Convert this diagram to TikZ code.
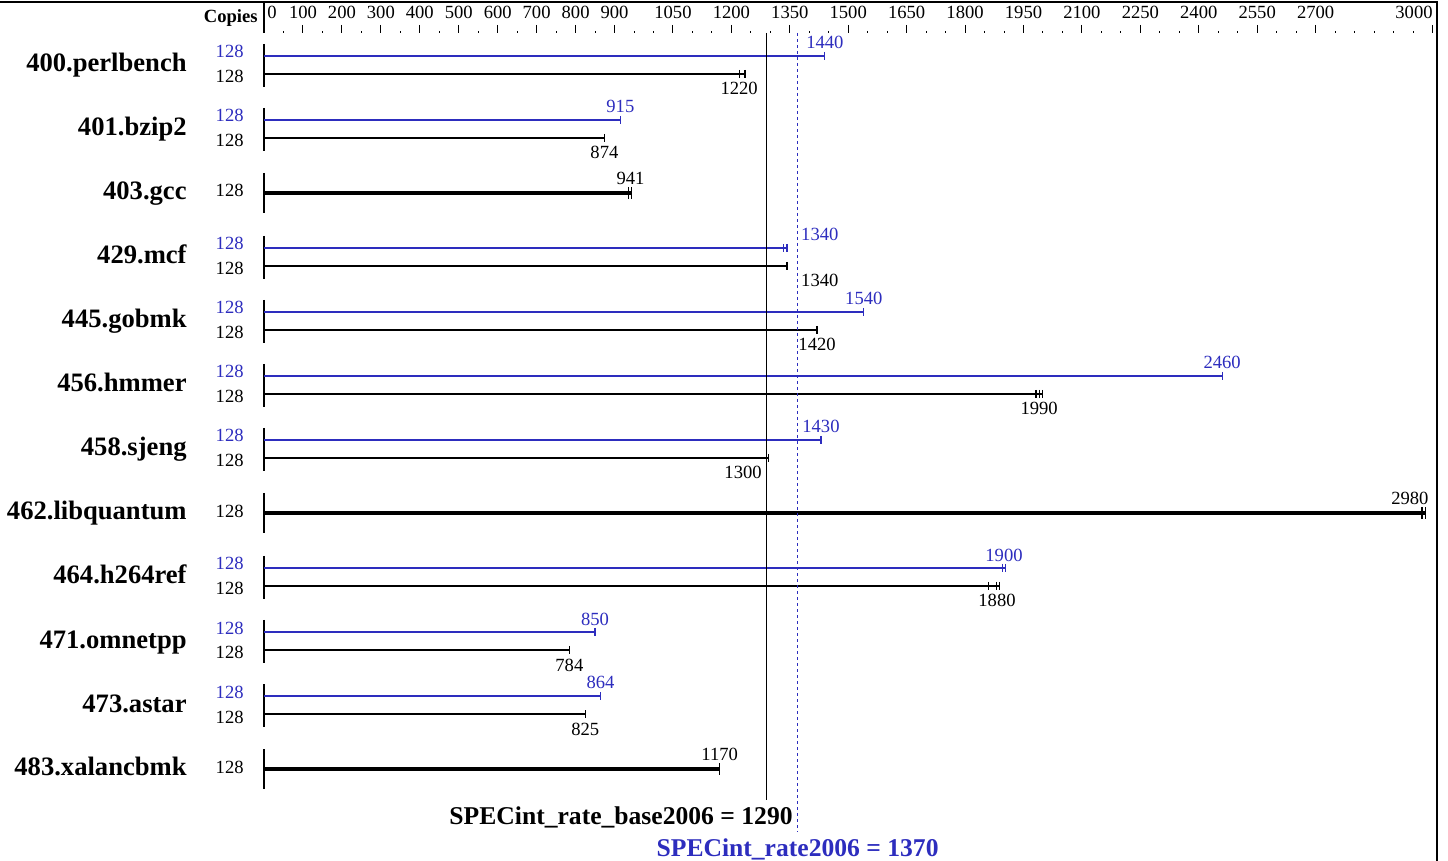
\documentclass[tikz,border=0pt]{standalone}
\usepackage{fontspec}
\setmainfont{Liberation Serif}
\usepackage{xcolor}
\usepackage{tikz}
\usetikzlibrary{positioning}
\definecolor{spBlue}{RGB}{45, 45, 190}
\newcommand{\vx}[1]{264+0.3895*#1}
\tikzset{
    base/.style={
        font=\fontsize{9.3}{11}\selectfont,
        inner sep=0pt
    },
    bench/.style={
        base,
        font=\bfseries\fontsize{13.3}{15}\selectfont,
        anchor=base east
    },
    copies/.style={
        base,
        anchor=base east
    },
    score/.style={
        base,
        anchor=base
    },
    total/.style={
        base,
        font=\bfseries\fontsize{12.8}{14}\selectfont,
        anchor=base
    },
    peakbar/.style={spBlue, line width=1.1pt},
    basebar/.style={black, line width=1.1pt},
    solebar/.style={black, line width=1.6pt},
    runtick/.style={line width=0.6pt},
    baseaxis/.style={black, line width=0.9pt}
}
% one bar, drawn out to each run, with a tick per run
\newcommand{\runbar}[4]{%
  \foreach \r in {#3} {
    \draw[#2] ({\vx{0}},#1) -- ({\vx{\r}},#1);
    \draw[#2, runtick] ({\vx{\r}},#1-#4) -- ({\vx{\r}},#1+#4);
  }%
}
% benchmark with peak and base result
\newcommand{\pairrow}[9]{%
  \node[bench] (#1) at (187,#2+10) {#3};
  \node[copies, spBlue] (#1-pc) at (244,#2-4) {128};
  \node[copies] (#1-bc) at (244,#2+21) {128};
  \draw[baseaxis] ({\vx{0}},#2-18) -- ({\vx{0}},#2+25);
  \runbar{#2-6}{peakbar}{#4}{4}
  \runbar{#2+12}{basebar}{#7}{4}
  \node[score, spBlue] (#1-peak) at ({\vx{#6}},#2-13) {#5};
  \node[score] (#1-base) at ({\vx{#9}},#2+33) {#8};
}
% benchmark with base result only
\newcommand{\solerow}[6]{%
  \node[bench] (#1) at (187,#2+10) {#3};
  \node[copies] (#1-bc) at (244,#2+7) {128};
  \draw[baseaxis] ({\vx{0}},#2-17) -- ({\vx{0}},#2+23);
  \runbar{#2+3}{solebar}{#4}{6}
  \node[score] (#1-base) at ({\vx{#6}},#2-5) {#5};
}

\begin{document}
\begin{tikzpicture}[x=0.5pt, y=-0.5pt]
  \useasboundingbox (0,0) rectangle (1448,861);

  % Frame
  \draw[line width=1pt] (0,2) -- (1437,2) -- (1437,861);

  % Axis
  \draw[baseaxis] ({\vx{0}},2) -- ({\vx{0}},33);
  \node[copies, font=\bfseries\fontsize{9.3}{11}\selectfont] (copies) at (258,23) {Copies};
  \foreach \v in {50,100,...,3000}
    \draw[line width=0.5pt] ({\vx{\v}},31) -- ({\vx{\v}},33);
  \foreach \v in {100,200,...,900} {
    \draw[line width=0.5pt] ({\vx{\v}},25) -- ({\vx{\v}},33);
    \node[score] (tick\v) at ({\vx{\v}},19) {\v};
  }
  \foreach \v in {1050,1200,...,2700} {
    \draw[line width=0.5pt] ({\vx{\v}},25) -- ({\vx{\v}},33);
    \node[score] (tick\v) at ({\vx{\v}},19) {\v};
  }
  \draw[line width=0.5pt] ({\vx{3000}},25) -- ({\vx{3000}},33);
  \node[score, anchor=base west] (zero) at (267,19) {0};
  \node[score, anchor=base east] (top) at (1433,19) {3000};

  % Rows
  \pairrow{perlbench}{62}{400.perlbench}{1440}{1440}{1440}{1220,1235}{1220}{1220}
  \pairrow{bzip}{126}{401.bzip2}{915}{915}{915}{874}{874}{874}
  \solerow{gcc}{190}{403.gcc}{936,944}{941}{941}
  \pairrow{mcf}{254}{429.mcf}{1334,1343}{1340}{1427}{1343}{1340}{1427}
  \pairrow{gobmk}{318}{445.gobmk}{1540}{1540}{1540}{1420}{1420}{1420}
  \pairrow{hmmer}{382}{456.hmmer}{2460}{2460}{2460}{1982,1990,1998}{1990}{1990}
  \pairrow{sjeng}{446}{458.sjeng}{1430}{1430}{1430}{1295}{1300}{1230}
  \solerow{libquantum}{510}{462.libquantum}{2973,2983}{2980}{2942}
  \pairrow{hcode}{574}{464.h264ref}{1896,1903}{1900}{1900}{1860,1880,1888}{1880}{1882}
  \pairrow{omnetpp}{638}{471.omnetpp}{850}{850}{850}{784}{784}{784}
  \pairrow{astar}{702}{473.astar}{864}{864}{864}{825}{825}{825}
  \solerow{xalanc}{766}{483.xalancbmk}{1170}{1170}{1170}

  % Overall ratios
  \draw[black, line width=0.8pt] ({\vx{1290}},33) -- ({\vx{1290}},800);
  \draw[spBlue, line width=0.8pt, dash pattern=on 1.5pt off 1.5pt] ({\vx{1370}},33) -- ({\vx{1370}},832);
  \node[total, anchor=base east] (baseratio) at (793,824) {SPECint\_rate\_base2006 = 1290};
  \node[total, text=spBlue] (peakratio) at ({\vx{1370}},856) {SPECint\_rate2006 = 1370};

\end{tikzpicture}
\end{document}
